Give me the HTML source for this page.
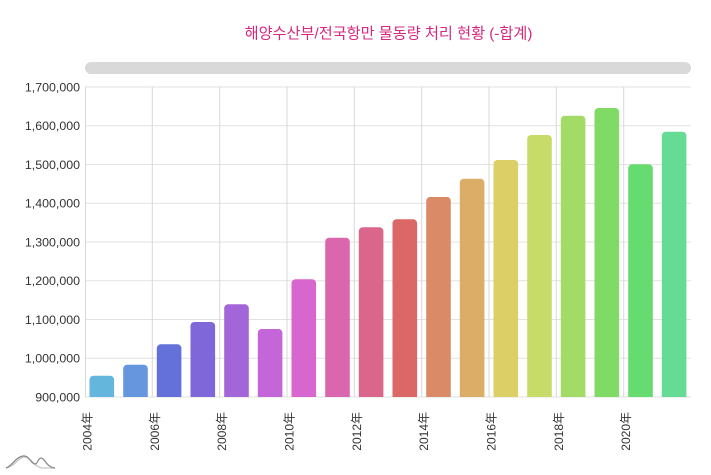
<!DOCTYPE html>
<html><head><meta charset="utf-8"><style>
html,body{margin:0;padding:0;background:#fff;}
svg{display:block;font-family:"Liberation Sans","Noto Sans CJK KR",sans-serif;}
</style></head><body>
<svg width="711" height="475" viewBox="0 0 711 475" xmlns="http://www.w3.org/2000/svg">
<defs><clipPath id="pc"><rect x="85" y="80" width="606" height="317"/></clipPath></defs>
<text x="388.5" y="38.5" text-anchor="middle" font-size="15.2" fill="#d6287f" font-family="'Liberation Sans','Noto Sans CJK KR',sans-serif">해양수산부/전국항만 물동량 처리 현황 (-합계)</text>
<rect x="85" y="62" width="606" height="12" rx="6" fill="#d9d9d9"/>
<g stroke="#e2e2e2" stroke-width="1">
<line x1="85" y1="87" x2="691" y2="87"/>
<line x1="85" y1="125.75" x2="691" y2="125.75"/>
<line x1="85" y1="164.5" x2="691" y2="164.5"/>
<line x1="85" y1="203.25" x2="691" y2="203.25"/>
<line x1="85" y1="242" x2="691" y2="242"/>
<line x1="85" y1="280.75" x2="691" y2="280.75"/>
<line x1="85" y1="319.5" x2="691" y2="319.5"/>
<line x1="85" y1="358.25" x2="691" y2="358.25"/>
<line x1="85" y1="397" x2="691" y2="397"/>
</g>
<g stroke="#d8d8d8" stroke-width="1">
<line x1="85.5" y1="87" x2="85.5" y2="397"/>
<line x1="152.3" y1="87" x2="152.3" y2="397"/>
<line x1="219.7" y1="87" x2="219.7" y2="397"/>
<line x1="287" y1="87" x2="287" y2="397"/>
<line x1="354.3" y1="87" x2="354.3" y2="397"/>
<line x1="421.7" y1="87" x2="421.7" y2="397"/>
<line x1="489" y1="87" x2="489" y2="397"/>
<line x1="556.3" y1="87" x2="556.3" y2="397"/>
<line x1="623.7" y1="87" x2="623.7" y2="397"/>
</g>
<g clip-path="url(#pc)">
<rect x="89.5" y="375.7" width="24.6" height="30" rx="4" fill="#64b6dc"/>
<rect x="123.2" y="364.7" width="24.6" height="40" rx="4" fill="#6596de"/>
<rect x="156.8" y="344.3" width="24.6" height="60" rx="4" fill="#6571da"/>
<rect x="190.5" y="322" width="24.6" height="80" rx="4" fill="#7f66d9"/>
<rect x="224.2" y="304.3" width="24.6" height="100" rx="4" fill="#a366d8"/>
<rect x="257.8" y="329" width="24.6" height="80" rx="4" fill="#c466d9"/>
<rect x="291.5" y="279.3" width="24.6" height="130" rx="4" fill="#d866cf"/>
<rect x="325.2" y="237.7" width="24.6" height="170" rx="4" fill="#da66ad"/>
<rect x="358.8" y="227.3" width="24.6" height="180" rx="4" fill="#db668b"/>
<rect x="392.5" y="219.3" width="24.6" height="190" rx="4" fill="#db6767"/>
<rect x="426.2" y="197" width="24.6" height="210" rx="4" fill="#db8a68"/>
<rect x="459.8" y="178.7" width="24.6" height="230" rx="4" fill="#dbad66"/>
<rect x="493.5" y="160" width="24.6" height="250" rx="4" fill="#dbcf66"/>
<rect x="527.2" y="135" width="24.6" height="270" rx="4" fill="#c6db68"/>
<rect x="560.8" y="115.7" width="24.6" height="290" rx="4" fill="#a2db66"/>
<rect x="594.5" y="108" width="24.6" height="300" rx="4" fill="#80db66"/>
<rect x="628.2" y="164.3" width="24.6" height="240" rx="4" fill="#66db6f"/>
<rect x="661.8" y="131.7" width="24.6" height="270" rx="4" fill="#66db96"/>
</g>
<g font-size="12.4" fill="#333" text-anchor="end">
<text x="80" y="91.5">1,700,000</text>
<text x="80" y="130.2">1,600,000</text>
<text x="80" y="169">1,500,000</text>
<text x="80" y="207.7">1,400,000</text>
<text x="80" y="246.5">1,300,000</text>
<text x="80" y="285.2">1,200,000</text>
<text x="80" y="324">1,100,000</text>
<text x="80" y="362.7">1,000,000</text>
<text x="80" y="401.5">900,000</text>
</g>
<g font-size="12" fill="#333" text-anchor="end">
<text transform="translate(91.5,412) rotate(-90)">2004年</text>
<text transform="translate(158.8,412) rotate(-90)">2006年</text>
<text transform="translate(226.2,412) rotate(-90)">2008年</text>
<text transform="translate(293.5,412) rotate(-90)">2010年</text>
<text transform="translate(360.8,412) rotate(-90)">2012年</text>
<text transform="translate(428.2,412) rotate(-90)">2014年</text>
<text transform="translate(495.5,412) rotate(-90)">2016年</text>
<text transform="translate(562.8,412) rotate(-90)">2018年</text>
<text transform="translate(630.2,412) rotate(-90)">2020年</text>
</g>
<g fill="none" stroke-width="1.3">
<path d="M6,468 C14,467 18,458 24,457 C30,456 34,467 42,468 C48,468 52,468 55,468" stroke="#c8c8c8"/>
<path d="M6,468 C12,466 16,457 23,456 C29,455 31,464 35,464 C38,464 38,458 41,458 C45,458 46,467 55,468" stroke="#8a8a8a"/>
</g>
</svg>
</body></html>
